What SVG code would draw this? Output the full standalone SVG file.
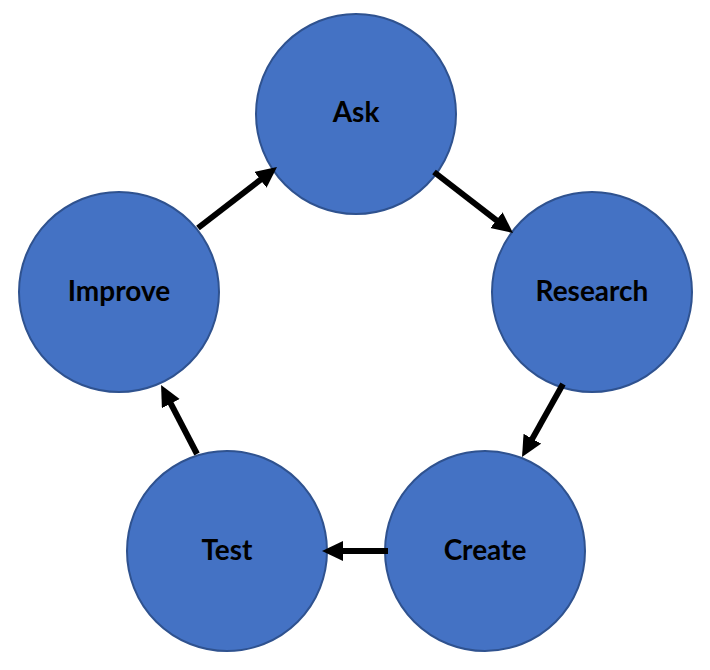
<svg xmlns="http://www.w3.org/2000/svg" width="710" height="670" viewBox="0 0 710 670">
<style>
.node circle{fill:#4472C4;stroke:#2F528F;stroke-width:2}
.node text{font-family:Lato,"Liberation Sans",sans-serif;font-weight:bold;font-size:28px;fill:#000;text-anchor:middle;dominant-baseline:central}
.conn line{stroke:#000;stroke-width:6}
</style>
<defs>
<marker id="ah" markerUnits="userSpaceOnUse" markerWidth="22" markerHeight="22" refX="1" refY="10" orient="auto">
<path d="M0,0 L21,10 L0,20 z" fill="#000"/>
</marker>
</defs>
<rect width="710" height="670" fill="#fff"/>
<g id="ask" class="node"><circle cx="356" cy="114" r="100"/><text x="356" y="111">Ask</text></g>
<g id="research" class="node"><circle cx="592" cy="292" r="100"/><text x="592" y="290">Research</text></g>
<g id="create" class="node"><circle cx="485" cy="551" r="100"/><text x="485" y="549">Create</text></g>
<g id="test" class="node"><circle cx="227" cy="551" r="100"/><text x="227" y="549">Test</text></g>
<g id="improve" class="node"><circle cx="119" cy="292" r="100"/><text x="119" y="290">Improve</text></g>
<g id="connectors" class="conn">
<line x1="434" y1="172" x2="497.2" y2="220.8" marker-end="url(#ah)"/>
<line x1="563" y1="384" x2="531.8" y2="439.6" marker-end="url(#ah)"/>
<line x1="388" y1="551" x2="342" y2="551" marker-end="url(#ah)"/>
<line x1="197" y1="454" x2="170.3" y2="402.7" marker-end="url(#ah)"/>
<line x1="198" y1="228" x2="261.2" y2="179.2" marker-end="url(#ah)"/>
</g>
</svg>
